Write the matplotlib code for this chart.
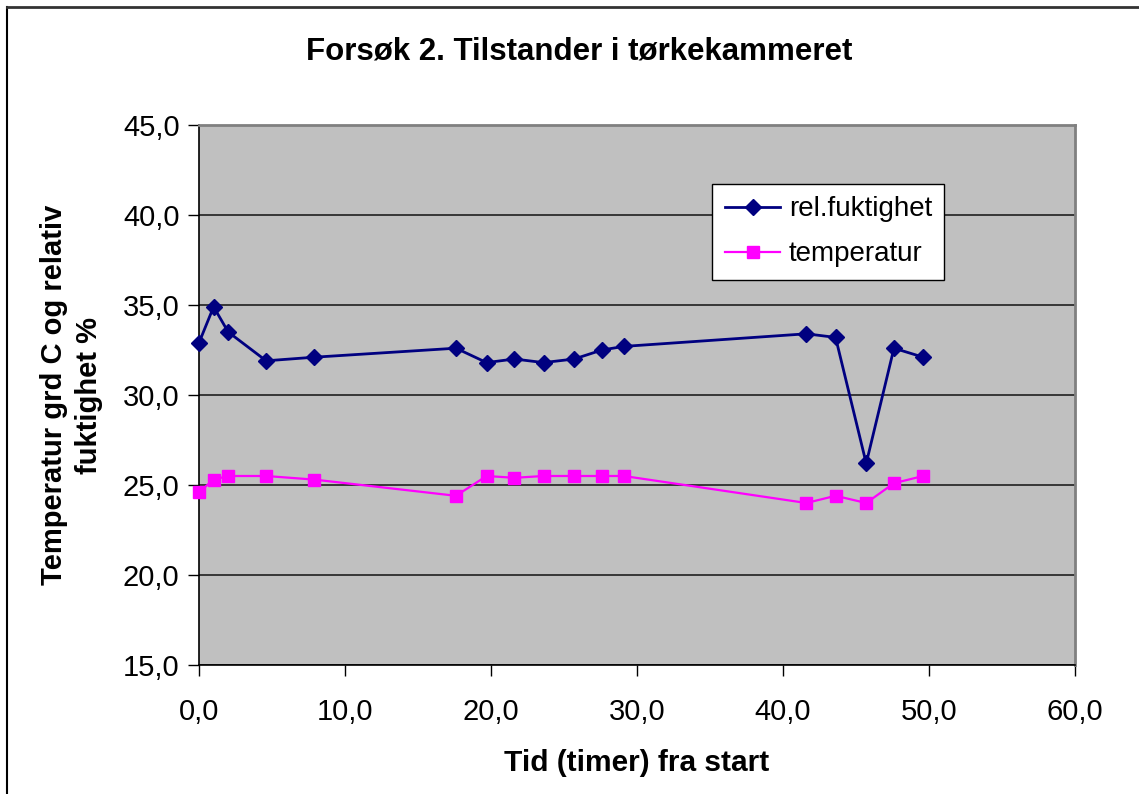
import matplotlib
matplotlib.use("Agg")
import matplotlib.pyplot as plt
from matplotlib.lines import Line2D
from matplotlib.ticker import FuncFormatter, MultipleLocator

plt.rcParams["font.family"] = ["Liberation Sans", "DejaVu Sans"]

# Tid (timer) fra start
tid = [0.0, 1.0, 2.0, 4.6, 7.9, 17.6, 19.7, 21.6, 23.6, 25.7, 27.6, 29.1,
       41.6, 43.6, 45.7, 47.6, 49.6]
rel_fuktighet = [32.9, 34.9, 33.5, 31.9, 32.1, 32.6, 31.8, 32.0, 31.8, 32.0,
                 32.5, 32.7, 33.4, 33.2, 26.2, 32.6, 32.1]
temperatur = [24.6, 25.3, 25.5, 25.5, 25.3, 24.4, 25.5, 25.4, 25.5, 25.5,
              25.5, 25.5, 24.0, 24.4, 24.0, 25.1, 25.5]

fig = plt.figure(figsize=(11.39, 7.94), dpi=100)
ax = fig.add_axes([199 / 1139, 129 / 794, 876 / 1139, 540 / 794])
ax.set_facecolor("#C0C0C0")

ax.plot(tid, rel_fuktighet, color="#000080", lw=2, marker="D", ms=8.5,
        label="rel.fuktighet", zorder=3, clip_on=False)
ax.plot(tid, temperatur, color="#FF00FF", lw=1.6, marker="s", ms=8,
        label="temperatur", zorder=3, clip_on=False)

ax.set_xlim(0, 60)
ax.set_ylim(15, 45)
ax.xaxis.set_major_locator(MultipleLocator(10))
ax.yaxis.set_major_locator(MultipleLocator(5))
comma = FuncFormatter(lambda v, p: f"{v:.1f}".replace(".", ","))
ax.xaxis.set_major_formatter(comma)
ax.yaxis.set_major_formatter(comma)

ax.grid(axis="y", color="#202020", lw=1.2)
ax.set_axisbelow(True)
ax.tick_params(labelsize=21, direction="out", length=8, width=1, color="black")
ax.tick_params(axis="x", pad=16)
ax.tick_params(axis="y", pad=6)

for s in ("top", "right"):
    ax.spines[s].set_color("#808080")
    ax.spines[s].set_linewidth(2)
for s in ("left", "bottom"):
    ax.spines[s].set_color("black")
    ax.spines[s].set_linewidth(1.2)

ax.set_xlabel("Tid (timer) fra start", fontsize=21.5, fontweight="bold", labelpad=16)
ax.set_ylabel("Temperatur grd C og relativ\nfuktighet %", fontsize=21,
              fontweight="bold", labelpad=14, linespacing=1.35)
fig.suptitle("Forsøk 2. Tilstander i tørkekammeret", fontsize=22.5,
             fontweight="bold", x=579 / 1139, y=1 - 52 / 794, va="center")

leg = ax.legend(loc="upper left", bbox_to_anchor=(0.586, 0.891), fontsize=20,
                fancybox=False, framealpha=1, edgecolor="black",
                handlelength=2.0, borderpad=0.45, labelspacing=0.68,
                handletextpad=0.3, borderaxespad=0)
leg.get_frame().set_linewidth(1)

# chart area border (left and top edges visible)
fig.add_artist(Line2D([7 / 1139, 7 / 1139], [0, 1 - 7 / 794], color="black", lw=1.5))
fig.add_artist(Line2D([7 / 1139, 1], [1 - 7 / 794, 1 - 7 / 794], color="#333333", lw=2))

fig.savefig("out.png", dpi=100)
